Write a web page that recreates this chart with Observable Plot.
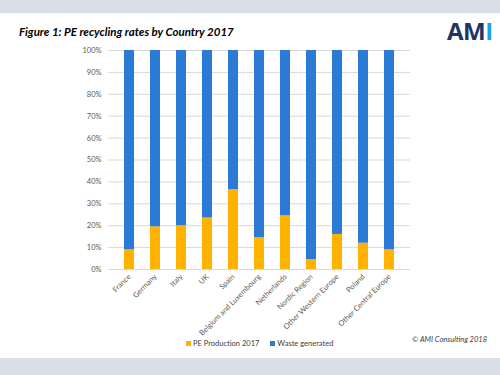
<!DOCTYPE html>
<html>
<head>
<meta charset="utf-8">
<script src="https://cdn.jsdelivr.net/npm/d3@7"></script>
<script src="https://cdn.jsdelivr.net/npm/@observablehq/plot@0.6"></script>
<style>
  html, body { margin: 0; padding: 0; background: #fff; }
  #page { position: relative; width: 500px; height: 375px; overflow: hidden; background: #fff; font-family: Lato, "Open Sans", sans-serif; }
  .band { position: absolute; left: 0; width: 500px; background: #d8dfe6; }
  #title { position: absolute; left: 19px; top: 25px; font-size: 11.5px; font-weight: bold; font-style: italic; color: #000; white-space: nowrap; }
  #logo { position: absolute; left: 447px; top: 19px; font-size: 24px; font-weight: bold; letter-spacing: -0.5px; font-family: "Open Sans", Lato, sans-serif; line-height: 1; }
  #chart { position: absolute; left: 0; top: 40px; }
  #legend { position: absolute; left: 186px; top: 339px; font-size: 7.5px; color: #404040; white-space: nowrap; }
  #legend span.sw { display: inline-block; width: 5px; height: 5px; margin-right: 2px; vertical-align: 0px; }
  #caption { position: absolute; right: 13px; top: 335px; font-size: 7.5px; font-style: italic; color: #404040; white-space: nowrap; }
</style>
</head>
<body>
<div id="page">
  <div class="band" style="top:0;height:13px"></div>
  <div class="band" style="top:358px;height:17px"></div>
  <div id="title">Figure 1: PE recycling rates by Country 2017</div>
  <div id="logo"><span style="color:#1f3563">AM</span><span style="color:#1ba3de">I</span></div>
  <div id="chart"></div>
  <div id="legend"><span class="sw" style="background:#ffb300"></span>PE Production 2017<span style="display:inline-block;width:11px"></span><span class="sw" style="background:#2b7bd6"></span>Waste generated</div>
  <div id="caption">© AMI Consulting 2018</div>
</div>
<script>
const countries = ["France", "Germany", "Italy", "UK", "Spain", "Belgium and Luxembourg", "Netherlands", "Nordic Region", "Other Western Europe", "Poland", "Other Central Europe"];
const peProduction = [9, 19.5, 20, 23.5, 36.5, 14.5, 24.5, 4.5, 16, 12, 9];
const wasteGenerated = [91, 80.5, 80, 76.5, 63.5, 85.5, 75.5, 95.5, 84, 88, 91];
const seriesNames = ["PE Production 2017", "Waste generated"];
const seriesColors = ["#ffb300", "#2b7bd6"];
const yTicks = [0, 10, 20, 30, 40, 50, 60, 70, 80, 90, 100];

const rows = [];
countries.forEach((c, i) => {
  rows.push({country: c, series: seriesNames[0], value: peProduction[i]});
  rows.push({country: c, series: seriesNames[1], value: wasteGenerated[i]});
});

const chart = Plot.plot({
  width: 500,
  height: 300,
  marginTop: 10,
  marginBottom: 71,
  marginLeft: 108,
  marginRight: 90,
  style: {fontFamily: "Lato, 'Open Sans', sans-serif", fontSize: "8px", color: "#595959", overflow: "visible"},
  x: {domain: countries, padding: 0.6, label: null},
  y: {domain: [0, 100], label: null},
  color: {domain: seriesNames, range: seriesColors},
  marks: [
    Plot.gridY(yTicks, {stroke: "#d9d9d9", strokeOpacity: 1}),
    Plot.barY(rows, {x: "country", y: "value", fill: "series", order: seriesNames}),
    Plot.axisY(yTicks, {tickSize: 0, tickPadding: 7, tickFormat: d => d + "%", fill: "#595959", fontSize: 7.5}),
    Plot.axisX({tickSize: 0, tickRotate: -45, tickPadding: 6, fill: "#595959", fontSize: 7.5, textAnchor: "end"})
  ]
});
document.getElementById("chart").appendChild(chart);
</script>
</body>
</html>
